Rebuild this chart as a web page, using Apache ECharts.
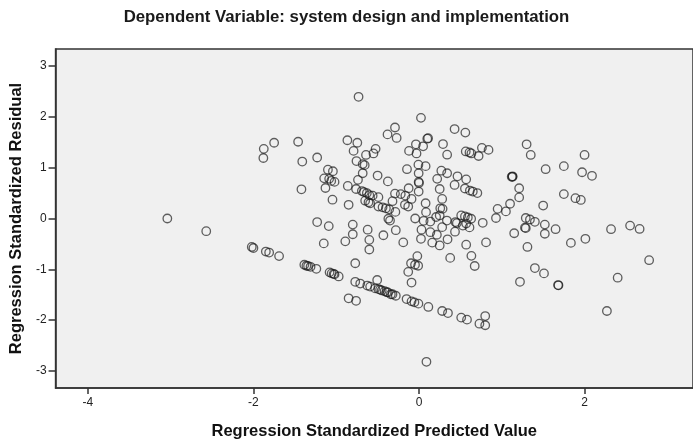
<!DOCTYPE html>
<html>
<head>
<meta charset="utf-8">
<script src="https://cdn.jsdelivr.net/npm/echarts@6/dist/echarts.min.js"></script>
<style>
  html, body { margin: 0; padding: 0; background: #ffffff; }
  #chart { width: 693px; height: 445px; }
</style>
</head>
<body>
<div id="chart"></div>
<script>
// Regression standardized predicted values (x) and standardized residuals (y)
const predictedValues = [
  -3.04, -2.57, -2.02, -2.00, -1.85, -1.81, -1.69,
  -1.875, -1.75, -1.88, -1.46, -1.41, -1.23, -1.42,
  -1.10, -1.04, -1.145, -1.085, -1.06, -1.02, -1.13, -1.045,
  -1.23, -1.09, -1.15,
  -1.385, -1.36, -1.34, -1.31, -1.24, -1.08, -1.055, -1.03, -1.02, -0.97,
  -0.73, -0.865, -0.745, -0.79, -0.524, -0.55, -0.64, -0.755, -0.68, -0.656,
  -0.68, -0.50, -0.376, -0.737, -0.86, -0.76, -0.69, -0.665, -0.63, -0.60,
  -0.56, -0.49, -0.65, -0.61, -0.59, -0.85, -0.49, -0.44, -0.40, -0.36,
  -0.37, -0.35, -0.80, -0.80, -0.89, -0.77, -0.62, -0.60, -0.60, -0.43,
  -0.28, -0.19,
  -0.77, -0.71, -0.625, -0.59, -0.505, -0.53, -0.49, -0.47, -0.45, -0.415,
  -0.39, -0.375, -0.34, -0.32, -0.28, -0.85, -0.76, -0.15, -0.09, -0.055,
  -0.007, 0.113, 0.28, 0.35, 0.51, 0.58, 0.80, 0.73, 0.80, 0.09,
  0.024, -0.29, -0.38, -0.27, 0.10, 0.11, -0.145, -0.12, -0.037, -0.03,
  0.05, -0.007, 0.08, -0.004, -0.004, 0.0, -0.004, -0.29, -0.22, -0.165,
  -0.09, -0.125, -0.32, -0.285, -0.17, -0.13, 0.08, 0.085, -0.046, 0.056,
  0.137, 0.03, 0.024, 0.137, 0.16, 0.216, 0.25, 0.345, -0.02, -0.096,
  -0.048, -0.01, -0.13, -0.09,
  0.29, 0.34, 0.27, 0.34, 0.22, 0.25, 0.28, 0.257, 0.285, 0.207,
  0.25, 0.337, 0.28, 0.377,
  0.43, 0.56, 0.565, 0.61, 0.633, 0.72, 0.76, 0.84, 0.465, 0.57,
  0.43, 0.555, 0.615, 0.65, 0.705, 0.51, 0.555, 0.59, 0.63, 0.44,
  0.457, 0.57, 0.61, 0.53, 0.435, 0.77, 0.57, 0.81, 0.633, 0.673,
  0.95, 0.93, 1.05, 1.10, 1.21, 1.21, 1.12, 1.13, 1.13, 1.30,
  1.35, 1.53, 1.75, 1.50, 1.29, 1.34, 1.40, 1.29, 1.28, 1.52,
  1.52, 1.65, 1.15, 1.31, 1.40, 1.51, 1.22, 1.68, 1.685,
  1.75, 1.89, 1.955, 1.97, 2.09, 2.00, 1.835, 2.01, 2.32, 2.55,
  2.665, 2.78, 2.40, 2.27
];

const standardizedResiduals = [
  0.00, -0.25, -0.56, -0.58, -0.65, -0.67, -0.74,
  1.37, 1.49, 1.19, 1.51, 1.12, 1.20, 0.575,
  0.96, 0.93, 0.79, 0.78, 0.74, 0.72, 0.60, 0.37,
  -0.07, -0.15, -0.49,
  -0.91, -0.93, -0.935, -0.95, -0.99, -1.06, -1.08, -1.09, -1.10, -1.14,
  2.395, 1.54, 1.49, 1.33, 1.37, 1.28, 1.25, 1.13, 1.07, 1.05,
  0.89, 0.845, 0.73, 0.76, 0.64, 0.58, 0.54, 0.52, 0.50, 0.46,
  0.45, 0.42, 0.35, 0.32, 0.30, 0.27, 0.235, 0.22, 0.20, 0.18,
  -0.005, -0.04, -0.12, -0.31, -0.45, -0.88, -0.22, -0.42, -0.61, -0.33,
  -0.23, -0.47,
  -1.245, -1.28, -1.32, -1.34, -1.21, -1.375, -1.39, -1.40, -1.415, -1.43,
  -1.45, -1.455, -1.49, -1.49, -1.52, -1.57, -1.62, -1.585, -1.63, -1.65,
  -1.675, -1.74, -1.82, -1.86, -1.95, -1.99, -1.92, -2.07, -2.10, -2.82,
  1.98, 1.79, 1.655, 1.585, 1.57, 1.58, 0.97, 1.33, 1.46, 1.28,
  1.42, 1.06, 1.03, 0.89, 0.72, 0.70, 0.53, 0.49, 0.48, 0.45,
  0.385, 0.595, 0.34, 0.13, 0.27, 0.235, 0.30, 0.125, 0.0, -0.045,
  -0.06, -0.22, -0.40, -0.27, -0.475, -0.32, -0.53, -0.41, -0.74, -0.88,
  -0.91, -0.93, -1.05, -1.26,
  1.465, 1.255, 0.94, 0.89, 0.78, 0.58, 0.385, 0.20, 0.19, 0.03,
  0.06, -0.04, -0.17, -0.775,
  1.76, 1.69, 1.32, 1.30, 1.28, 1.23, 1.39, 1.35, 0.83, 0.77,
  0.66, 0.59, 0.55, 0.53, 0.50, 0.06, 0.04, 0.02, -0.005, -0.07,
  -0.09, -0.10, -0.175, -0.14, -0.26, -0.085, -0.515, -0.47, -0.735, -0.935,
  0.19, 0.01, 0.14, 0.29, 0.595, 0.415, 0.82, 0.82, 0.83, 1.46,
  1.25, 0.97, 1.03, 0.255, 0.01, -0.02, -0.065, -0.19, -0.18, -0.12,
  -0.30, -0.21, -0.29, -0.56, -0.975, -1.08, -1.245, -1.31, -1.315,
  0.48, 0.40, 0.365, 0.91, 0.84, 1.25, -0.48, -0.40, -0.21, -0.14,
  -0.205, -0.82, -1.165, -1.82
];

const xTicks = [-4, -2, 0, 2];
const yTicks = [-3, -2, -1, 0, 1, 2, 3];

const FONT = '"Liberation Sans", Arial, sans-serif';
const INK = '#333333';

const scatterData = predictedValues.map((x, i) => [x, standardizedResiduals[i]]);

const chart = echarts.init(document.getElementById('chart'), null, { renderer: 'canvas' });

chart.setOption({
  animation: false,
  backgroundColor: '#ffffff',
  title: {
    text: 'Dependent Variable: system design and implementation',
    left: 'center',
    top: 4,
    textStyle: { fontFamily: FONT, fontSize: 16.8, fontWeight: 'bold', color: '#1a1a1a' }
  },
  grid: {
    left: 54,
    top: 49,
    right: -2,
    bottom: 55,
    show: true,
    backgroundColor: '#f0f0f0',
    borderColor: INK,
    borderWidth: 1.5
  },
  xAxis: {
    type: 'value',
    min: -4.39,
    max: 3.31,
    name: 'Regression Standardized Predicted Value',
    nameLocation: 'middle',
    nameGap: 35,
    nameTextStyle: { fontFamily: FONT, fontSize: 16.5, fontWeight: 'bold', color: '#111111' },
    axisLine: { show: true, onZero: false, lineStyle: { color: INK, width: 1.5 } },
    axisTick: { show: true, customValues: xTicks, length: 6, lineStyle: { color: INK, width: 1.5 } },
    axisLabel: { customValues: xTicks, fontFamily: FONT, fontSize: 12, color: '#222222', margin: 9 },
    splitLine: { show: false }
  },
  yAxis: {
    type: 'value',
    min: -3.335,
    max: 3.335,
    name: 'Regression Standardized Residual',
    nameLocation: 'middle',
    nameGap: 26,
    nameTextStyle: { fontFamily: FONT, fontSize: 16.5, fontWeight: 'bold', color: '#111111' },
    axisLine: { show: true, onZero: false, lineStyle: { color: INK, width: 1.5 } },
    axisTick: { show: true, customValues: yTicks, length: 7, lineStyle: { color: INK, width: 1.5 } },
    axisLabel: { customValues: yTicks, fontFamily: FONT, fontSize: 12, color: '#222222', margin: 9 },
    splitLine: { show: false }
  },
  series: [{
    type: 'scatter',
    data: scatterData,
    symbol: 'circle',
    symbolSize: 8.5,
    itemStyle: {
      color: 'rgba(0,0,0,0)',
      borderColor: 'rgba(25,25,25,0.85)',
      borderWidth: 1.3
    },
    emphasis: { disabled: true }
  }]
});
</script>
</body>
</html>
